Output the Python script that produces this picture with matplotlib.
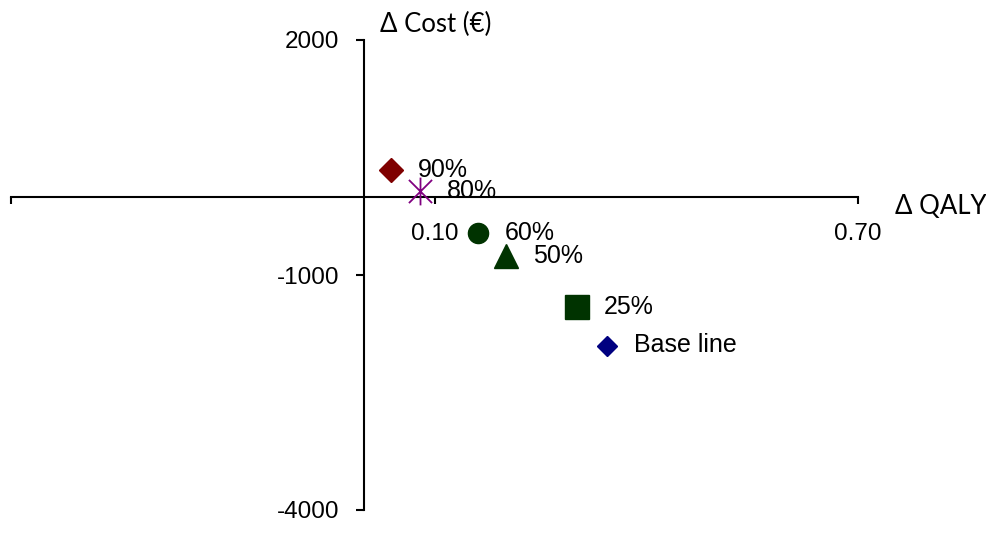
import matplotlib
matplotlib.use("Agg")
import matplotlib.pyplot as plt
from matplotlib.path import Path

# scenario results (delta QALY, delta cost in euro)
labels = ["90%", "80%", "60%", "50%", "25%", "Base line"]
d_qaly = [0.039, 0.080, 0.162, 0.202, 0.302, 0.345]
d_cost = [340, 70, -470, -760, -1410, -1900]
markers = ["D", "star6", "o", "^", "s", "D"]
colors = ["#7f0000", "#800080", "#003300", "#003300", "#003300", "#000080"]
sizes = [12, 20, 14.5, 17, 17, 10]

x_ticks = [-0.5, 0.1, 0.7]
x_ticklabels = ["", "0.10", "0.70"]
y_ticks = [-4000, -1000, 2000]
y_ticklabels = ["-4000", "-1000", "2000"]

# x with a vertical bar through it
star6 = Path([(-1, -1), (1, 1), (-1, 1), (1, -1), (0, -1.2), (0, 1.2)],
             [Path.MOVETO, Path.LINETO, Path.MOVETO, Path.LINETO,
              Path.MOVETO, Path.LINETO])

fig = plt.figure(figsize=(9.87, 5.34), dpi=100)
ax = fig.add_axes([11 / 987, 1 - 510 / 534, 847 / 987, 470 / 534])
ax.set_xlim(-0.5, 0.7)
ax.set_ylim(-4000, 2000)

for q, c, lab, m, col, s in zip(d_qaly, d_cost, labels, markers, colors, sizes):
    if m == "star6":
        ax.plot(q, c, marker=star6, markersize=s, color=col, markeredgewidth=1.3,
                linestyle="none", zorder=3)
    else:
        ax.plot(q, c, marker=m, markersize=s, color=col, linestyle="none", zorder=3)
    ax.annotate(lab, (q, c), xytext=(19, 0), textcoords="offset points",
                ha="left", va="center", fontsize=18, family="Liberation Sans")

ax.spines["left"].set_position(("data", 0))
ax.spines["bottom"].set_position(("data", 0))
ax.spines["top"].set_visible(False)
ax.spines["right"].set_visible(False)
for sp in ("left", "bottom"):
    ax.spines[sp].set_linewidth(1.5)
    ax.spines[sp].set_color("black")

ax.set_xticks(x_ticks)
ax.set_xticklabels(x_ticklabels, family="Liberation Sans", fontsize=17.5)
ax.set_yticks(y_ticks)
ax.set_yticklabels(y_ticklabels, family="Liberation Sans", fontsize=17.5)
ax.tick_params(axis="x", direction="out", length=5, width=1.5, pad=14)
ax.tick_params(axis="y", direction="out", length=6, width=1.5, pad=12)

fig.text(380 / 987, 1 - 24 / 534, "\u0394 Cost (\u20ac)", fontsize=18.5,
         family="Lato", ha="left", va="center")
fig.text(895 / 987, 1 - 206 / 534, "\u0394 QALY", fontsize=18.5,
         family="Lato", ha="left", va="center")

fig.savefig("out.png", dpi=100)
